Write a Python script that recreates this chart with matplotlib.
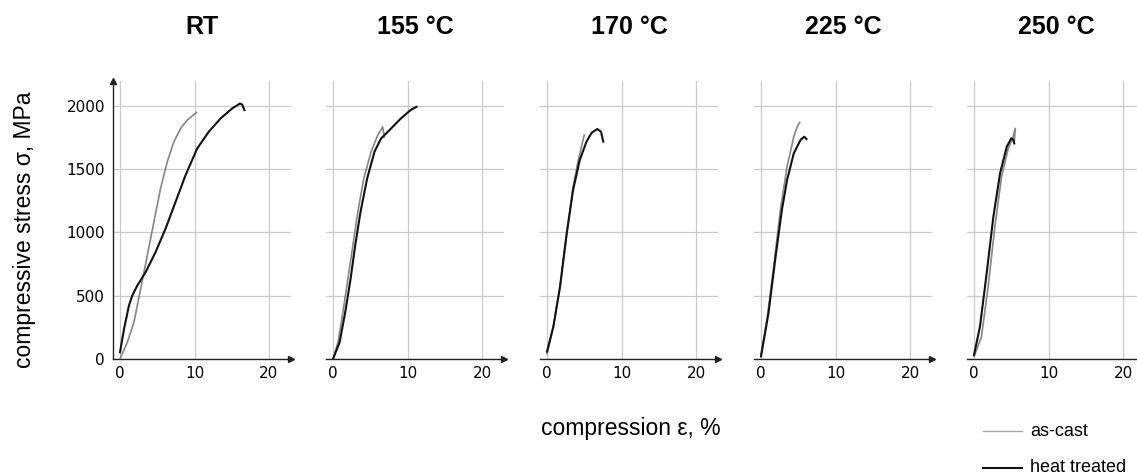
import matplotlib
matplotlib.use("Agg")
import matplotlib.pyplot as plt
from matplotlib.lines import Line2D

# ── Data ─────────────────────────────────────────────────────────────────────

titles = ["RT", "155 °C", "170 °C", "225 °C", "250 °C"]

# as-cast curves (strain %, stress MPa)
cast_rt_x = [0.0, 0.98, 1.87, 2.77, 3.66, 4.55, 5.44, 6.34, 7.23, 8.12, 9.0, 10.26]
cast_rt_y = [0, 132, 290, 554, 818, 1082, 1346, 1557, 1715, 1820, 1886, 1947]
cast_155_x = [0.0, 0.67, 1.33, 2.0, 2.67, 3.33, 4.13, 5.11, 6.0, 6.67, 6.76, 6.9]
cast_155_y = [0, 132, 369, 633, 897, 1161, 1425, 1636, 1768, 1834, 1800, 1755]
cast_170_x = [0.0, 0.85, 1.75, 2.65, 3.5, 4.2, 5.0]
cast_170_y = [40, 255, 571, 993, 1360, 1572, 1770]
cast_225_x = [0.0, 0.8, 1.7, 2.6, 3.5, 4.4, 4.9, 5.2]
cast_225_y = [32, 308, 729, 1177, 1519, 1756, 1840, 1869]
cast_250_x = [0.0, 1.0, 1.9, 2.8, 3.7, 4.6, 5.2, 5.55, 5.4]
cast_250_y = [20, 176, 571, 1045, 1440, 1664, 1743, 1822, 1717]

# heat treated curves
heat_rt_x = [0.0, 0.54, 1.2, 1.65, 2.32, 3.44, 4.77, 6.11, 7.45, 8.79, 10.35,
             11.9, 13.5, 15.05, 16.1, 16.4, 16.7]
heat_rt_y = [53, 237, 422, 501, 580, 686, 844, 1029, 1240, 1451, 1662,
             1794, 1900, 1979, 2018, 2010, 1966]
heat_155_x = [0.0, 0.89, 1.64, 2.36, 2.98, 3.69, 4.58, 5.56, 6.44, 7.78, 9.11, 10.4, 11.2]
heat_155_y = [0, 132, 369, 633, 897, 1161, 1425, 1636, 1741, 1820, 1900, 1966, 1992]
heat_170_x = [0.0, 0.85, 1.75, 2.65, 3.5, 4.4, 5.3, 6.0, 6.75, 7.25, 7.55]
heat_170_y = [58, 255, 571, 993, 1335, 1572, 1717, 1788, 1817, 1795, 1717]
heat_225_x = [0.0, 1.0, 1.9, 2.8, 3.5, 4.4, 5.3, 5.8, 6.1]
heat_225_y = [20, 361, 782, 1177, 1414, 1625, 1730, 1756, 1738]
heat_250_x = [0.0, 0.8, 1.7, 2.6, 3.5, 4.4, 5.0, 5.3, 5.4]
heat_250_y = [32, 255, 677, 1124, 1467, 1677, 1743, 1730, 1703]

cast_x = [cast_rt_x, cast_155_x, cast_170_x, cast_225_x, cast_250_x]
cast_y = [cast_rt_y, cast_155_y, cast_170_y, cast_225_y, cast_250_y]
heat_x = [heat_rt_x, heat_155_x, heat_170_x, heat_225_x, heat_250_x]
heat_y = [heat_rt_y, heat_155_y, heat_170_y, heat_225_y, heat_250_y]

x_ticks = [0, 10, 20]
y_ticks = [0, 500, 1000, 1500, 2000]

# ── Layout ───────────────────────────────────────────────────────────────────

W, H = 1137, 476
plt.rcParams["font.family"] = ["Liberation Sans", "DejaVu Sans"]

fig = plt.figure(figsize=(W / 100, H / 100), dpi=100)

zero_px = [120, 333, 547, 761, 974]   # pixel where strain = 0
unit_px = 7.45
xmin, xmax = -0.9, 23.0
ax_w = (xmax - xmin) * unit_px
bottom_px, top_px = 117, 395.5

GRID = "#c9c9c9"
SPINE = "#222222"
CAST = "#858585"
HEAT = "#111111"

for i in range(5):
    left = zero_px[i] + xmin * unit_px
    ax = fig.add_axes([left / W, bottom_px / H, ax_w / W, (top_px - bottom_px) / H])
    ax.plot(cast_x[i], cast_y[i], color=CAST, lw=1.2, zorder=3)
    ax.plot(heat_x[i], heat_y[i], color=HEAT, lw=1.5, zorder=4)

    ax.set_xlim(xmin, xmax)
    ax.set_ylim(0, 2200)
    ax.set_xticks(x_ticks)
    ax.set_yticks(y_ticks)
    ax.grid(True, color=GRID, lw=0.9)
    ax.set_axisbelow(True)
    ax.tick_params(length=0, labelsize=11, pad=5)
    for lab in ax.get_xticklabels() + ax.get_yticklabels():
        lab.set_family("DejaVu Sans")

    for side in ("top", "right"):
        ax.spines[side].set_visible(False)
    ax.spines["bottom"].set_color(SPINE)
    ax.spines["bottom"].set_linewidth(1.0)
    ax.plot(1, 0, ">", color=SPINE, ms=4, transform=ax.transAxes, clip_on=False)

    if i == 0:
        ax.spines["left"].set_color(SPINE)
        ax.spines["left"].set_linewidth(1.0)
        ax.plot(0, 1, "^", color=SPINE, ms=4, transform=ax.transAxes, clip_on=False)
        ax.tick_params(axis="y", pad=6)
    else:
        ax.spines["left"].set_visible(False)
        ax.tick_params(axis="y", labelleft=False)

    ax.set_title(titles[i], fontsize=18, fontweight="bold", pad=0,
                 y=(H - 27 - bottom_px) / (top_px - bottom_px), va="center")

# axis labels
fig.text(25 / W, 1 - 230 / H, "compressive stress σ, MPa", rotation=90,
         ha="center", va="center", fontsize=16.5)
fig.text(631 / W, 1 - 428 / H, "compression ε, %", ha="center", va="center",
         fontsize=16.5)

# legend drawn by hand
legend_items = [("as-cast", "#a8a8a8", 1.0, 431), ("heat treated", HEAT, 1.5, 468)]
for label, color, lw, y_px in legend_items:
    yf = 1 - y_px / H
    fig.add_artist(Line2D([983 / W, 1022 / W], [yf, yf], color=color, lw=lw))
    fig.text(1030 / W, yf, label, ha="left", va="center", fontsize=13)

fig.savefig("out.png", dpi=100)
